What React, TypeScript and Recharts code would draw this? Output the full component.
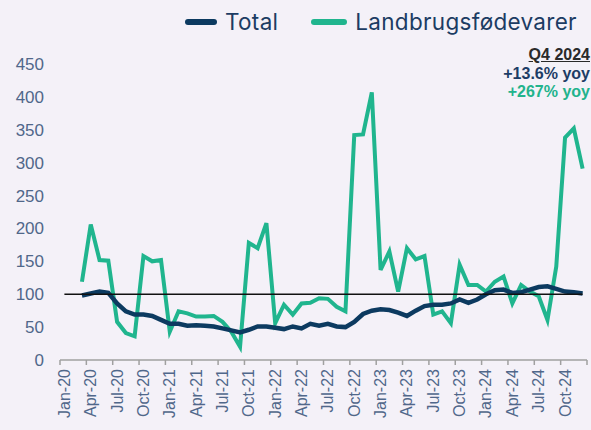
import React from "react";
import { LineChart, Line, XAxis, YAxis, ReferenceLine, Legend } from "recharts";

const months = [
  "Jan-20", "Feb-20", "Mar-20", "Apr-20", "May-20", "Jun-20", "Jul-20", "Aug-20", "Sep-20", "Oct-20", "Nov-20", "Dec-20",
  "Jan-21", "Feb-21", "Mar-21", "Apr-21", "May-21", "Jun-21", "Jul-21", "Aug-21", "Sep-21", "Oct-21", "Nov-21", "Dec-21",
  "Jan-22", "Feb-22", "Mar-22", "Apr-22", "May-22", "Jun-22", "Jul-22", "Aug-22", "Sep-22", "Oct-22", "Nov-22", "Dec-22",
  "Jan-23", "Feb-23", "Mar-23", "Apr-23", "May-23", "Jun-23", "Jul-23", "Aug-23", "Sep-23", "Oct-23", "Nov-23", "Dec-23",
  "Jan-24", "Feb-24", "Mar-24", "Apr-24", "May-24", "Jun-24", "Jul-24", "Aug-24", "Sep-24", "Oct-24", "Nov-24", "Dec-24",
];

// index 2020-01 = 100
const total = [
  null, null, 98, 101, 104, 102, 86, 74, 69, 69, 67, 61,
  55, 55, 52, 53, 52, 51, 48, 45, 42, 46, 51, 51,
  49, 47, 51, 48, 55, 52, 55, 51, 50, 58, 70, 75,
  77, 76, 72, 67, 75, 82, 84, 84, 86, 92, 87, 92,
  100, 106, 107, 102, 103, 107, 111, 112, 108, 104, 103, 101,
];

const landbrug = [
  null, null, 119, 206, 152, 151, 58, 41, 36, 158, 150, 152,
  43, 74, 71, 66, 66, 67, 58, 43, 20, 178, 170, 208,
  56, 84, 69, 86, 87, 94, 93, 81, 74, 342, 343, 407,
  137, 165, 104, 170, 153, 158, 69, 74, 56, 145, 114, 114,
  104, 119, 127, 86, 114, 104, 97, 61, 142, 338, 352, 291,
];

const yTicks = [0, 50, 100, 150, 200, 250, 300, 350, 400, 450];

const data = months.map((m, i) => ({ m, total: total[i], landbrug: landbrug[i] }));

const NAVY = "#0c3a60";
const GREEN = "#20b58e";
const BG = "#f4f1f8";
const AXIS_TEXT = "#50678a";

const W = 591;
const H = 430;
const PLOT_LEFT = 60;
const PLOT_RIGHT = 587;
const STEP = (PLOT_RIGHT - PLOT_LEFT) / months.length;

function MonthTick(props: any) {
  const { x, y, payload } = props;
  const isLast = payload.value === months[months.length - 3];
  return (
    <g>
      <line x1={x - STEP / 2} x2={x - STEP / 2} y1={y} y2={y + 5} stroke="#a0a0a0" strokeWidth={1.5} />
      {isLast && (
        <line x1={x + STEP * 2.5} x2={x + STEP * 2.5} y1={y} y2={y + 5} stroke="#a0a0a0" strokeWidth={1.5} />
      )}
      <text
        transform={`translate(${x},${y + 9}) rotate(-90)`}
        textAnchor="end"
        dominantBaseline="central"
        fill={AXIS_TEXT}
        fontSize={16}
        fontFamily="'Liberation Sans', Arial, sans-serif"
      >
        {payload.value}
      </text>
    </g>
  );
}

function LegendContent() {
  const items = [
    { label: "Total", color: NAVY, w: 32 },
    { label: "Landbrugsfødevarer", color: GREEN, w: 36 },
  ];
  return (
    <div style={{ display: "flex", alignItems: "center", paddingLeft: 185 }}>
      {items.map((it, i) => (
        <div key={it.label} style={{ display: "flex", alignItems: "center", marginRight: i === 0 ? 33 : 0 }}>
          <span style={{ display: "inline-block", width: it.w, height: 6, borderRadius: 3, background: it.color, marginRight: 8 }} />
          <span
            style={{
              fontFamily: "Inter, 'Noto Sans', sans-serif",
              fontSize: 22.5,
              letterSpacing: 0.3,
              color: "#1c3c63",
              lineHeight: "28px",
            }}
          >
            {it.label}
          </span>
        </div>
      ))}
    </div>
  );
}

export default function App() {
  return (
    <div style={{ position: "absolute", left: 0, top: 0, width: W, height: H, background: BG }}>
      <LineChart width={W} height={H} data={data} margin={{ top: 64, right: W - PLOT_RIGHT, bottom: 0, left: 0 }}>
        <XAxis
          dataKey="m"
          interval={2}
          height={70}
          padding={{ left: STEP / 2, right: STEP / 2 }}
          axisLine={{ stroke: "#a0a0a0", strokeWidth: 1.5 }}
          tickLine={false}
          tickSize={0}
          tickMargin={0}
          tick={<MonthTick />}
        />
        <YAxis
          domain={[0, 450]}
          ticks={yTicks}
          width={PLOT_LEFT}
          axisLine={false}
          tickLine={false}
          tickSize={0}
          tickMargin={16}
          tick={{ fill: AXIS_TEXT, fontSize: 17, fontFamily: "'Liberation Sans', Arial, sans-serif" }}
        />
        <Legend verticalAlign="middle" align="center" layout="horizontal" wrapperStyle={{ top: 8, left: 0, width: W }} content={<LegendContent />} />
        <Line type="linear" dataKey="landbrug" stroke={GREEN} strokeWidth={4} dot={false} isAnimationActive={false} />
        <Line type="linear" dataKey="total" stroke={NAVY} strokeWidth={4.5} dot={false} isAnimationActive={false} />
        <ReferenceLine
          segment={[{ x: months[0], y: 100 }, { x: months[months.length - 1], y: 100 }]}
          stroke="#111"
          strokeWidth={1.5}
        />
      </LineChart>
      <div
        style={{
          position: "absolute",
          top: 46,
          right: 1,
          textAlign: "right",
          fontFamily: "'Liberation Sans', Arial, sans-serif",
          fontWeight: 700,
          fontSize: 16,
          lineHeight: "18.5px",
        }}
      >
        <div style={{ color: "#2a2a2a", textDecoration: "underline" }}>Q4 2024</div>
        <div style={{ color: "#1d3d66" }}>+13.6% yoy</div>
        <div style={{ color: "#22b38c" }}>+267% yoy</div>
      </div>
    </div>
  );
}
